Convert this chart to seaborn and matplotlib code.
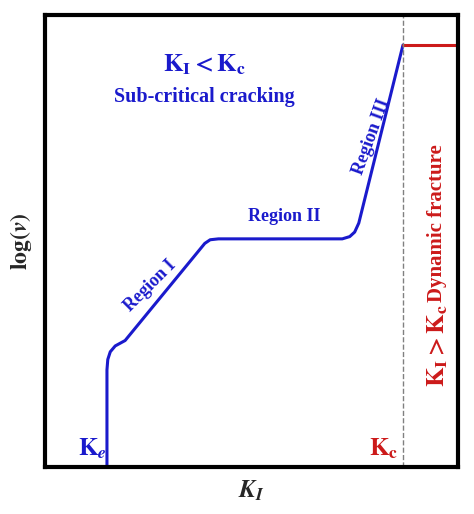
import matplotlib
matplotlib.use("Agg")
import matplotlib.pyplot as plt
import seaborn as sns
import numpy as np

sns.set_style("white")
plt.rcParams['font.family'] = ['Liberation Serif', 'DejaVu Serif']
plt.rcParams['mathtext.fontset'] = 'stix'

curve_x = [1.5, 1.5, 1.52, 1.58, 1.7, 1.94, 3.87, 4.0, 4.2, 7.2, 7.38, 7.5, 7.6, 8.67]
curve_y = [0.0, 2.15, 2.38, 2.55, 2.68, 2.8, 4.95, 5.03, 5.05, 5.05, 5.1, 5.2, 5.4, 9.34]
frac_x = [8.67, 10.0]
frac_y = [9.34, 9.34]
kc_x = 8.67

fig = plt.figure(figsize=(4.74, 5.14), dpi=100)
ax = fig.add_axes([0.095, 0.0914, 0.871, 0.879])
sns.lineplot(x=curve_x, y=curve_y, ax=ax, color='#1a1acc', lw=2.2, sort=False, estimator=None)
sns.lineplot(x=frac_x, y=frac_y, ax=ax, color='#cc1a1a', lw=2.2, sort=False, estimator=None)
ax.axvline(kc_x, color='gray', ls='--', lw=1)
ax.set_xlim(0, 10); ax.set_ylim(0, 10)
ax.set_xticks([]); ax.set_yticks([])
for s in ax.spines.values():
    s.set_linewidth(3); s.set_color('black')
blue = '#1a1acc'; red = '#cc1a1a'
ax.text(3.87, 8.9, r'$\mathbf{K_I < K_c}$', color=blue, fontsize=18, ha='center', va='center')
ax.text(3.87, 8.2, 'Sub-critical cracking', color=blue, fontsize=14.5, fontweight='bold', ha='center', va='center')
ax.text(2.55, 4.0, 'Region I', color=blue, fontsize=13, fontweight='bold', rotation=45, ha='center', va='center')
ax.text(5.8, 5.55, 'Region II', color=blue, fontsize=13, fontweight='bold', ha='center', va='center')
ax.text(7.92, 7.3, 'Region III', color=blue, fontsize=13, fontweight='bold', rotation=70, ha='center', va='center')
ax.text(9.5, 5.4, 'Dynamic fracture', color=red, fontsize=15, fontweight='bold', rotation=90, ha='center', va='center')
ax.text(9.5, 2.7, r'$\mathbf{K_I > K_c}$', color=red, fontsize=18, rotation=90, ha='center', va='center')
ax.text(1.15, 0.4, r'$\mathbf{K}_{\mathbfit{e}}$', color=blue, fontsize=18, ha='center', va='center')
ax.text(8.2, 0.4, r'$\mathbf{K_c}$', color=red, fontsize=18, ha='center', va='center')
ax.set_xlabel(r'$\mathbfit{K_I}$', fontsize=18, labelpad=8)
ax.set_ylabel(r'$\mathbf{log(}\mathbfit{v}\mathbf{)}$', fontsize=17, labelpad=8)
fig.savefig('out.png', dpi=100)
